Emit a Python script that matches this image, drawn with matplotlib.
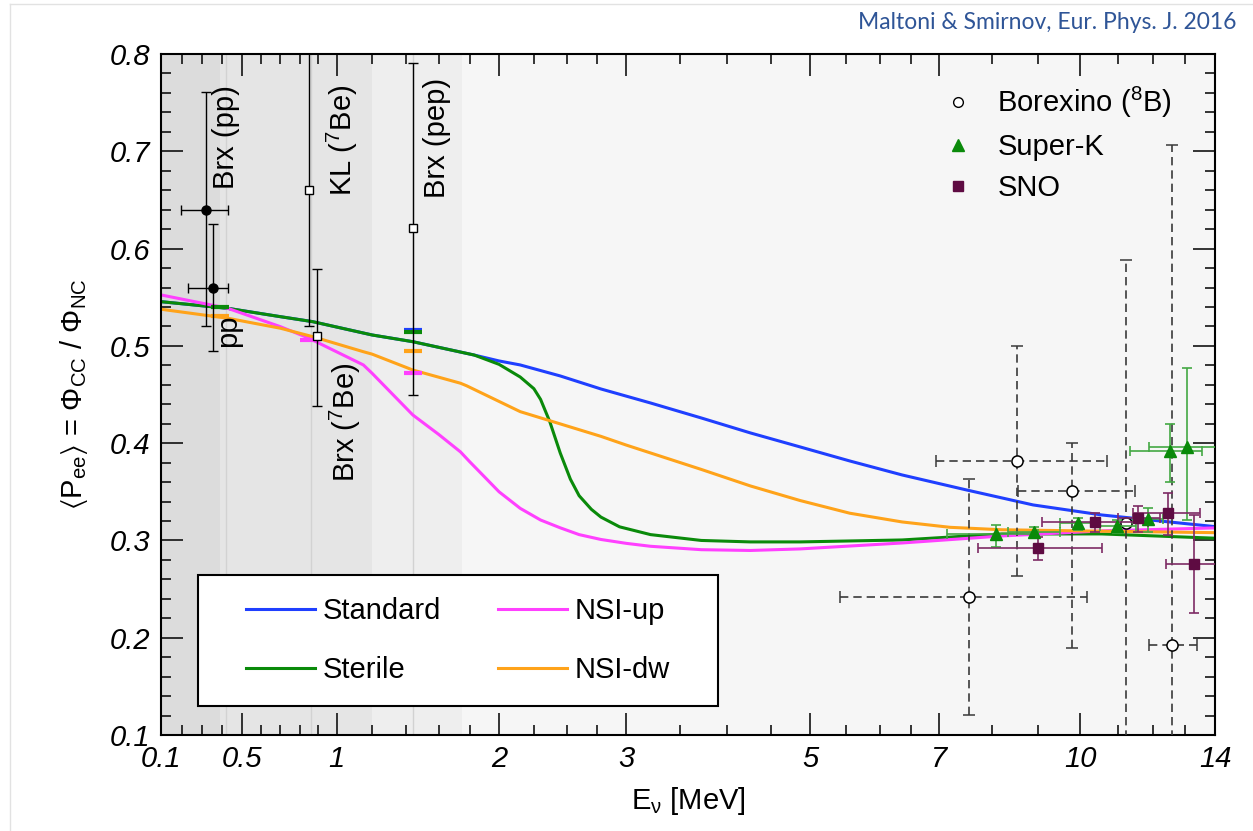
import numpy as np
import matplotlib
matplotlib.use('Agg')
import matplotlib.pyplot as plt
from matplotlib.lines import Line2D
from matplotlib.patches import Rectangle

plt.rcParams['font.family'] = ['Liberation Sans', 'DejaVu Sans']
plt.rcParams['mathtext.fontset'] = 'custom'
plt.rcParams['mathtext.rm'] = 'Liberation Sans'
plt.rcParams['mathtext.it'] = 'Liberation Sans:italic'
plt.rcParams['mathtext.bf'] = 'Liberation Sans:bold'
plt.rcParams['mathtext.fallback'] = 'stixsans'

# model curves: neutrino energy [MeV] and <Pee>
std_E = [0.1, 0.43, 0.7, 0.87, 1.2, 1.44, 1.83, 2.0, 2.15, 2.45, 2.78, 3.22, 3.72, 4.26,
         4.87, 5.55, 6.36, 7.5, 8.88, 10.55, 12.41, 14]
std_P = [0.5454, 0.5386, 0.530, 0.5249, 0.5112, 0.5043, 0.4906, 0.4845, 0.4804, 0.4691,
         0.4557, 0.4413, 0.4259, 0.4105, 0.3961, 0.3817, 0.3673, 0.3519, 0.3365, 0.3262,
         0.3193, 0.3142]

ster_E = [0.1, 0.43, 0.7, 0.87, 1.2, 1.44, 1.83, 2.0, 2.15, 2.25, 2.3, 2.37, 2.45, 2.53,
          2.6, 2.7, 2.78, 2.94, 3.22, 3.72, 4.26, 4.87, 6.36, 8.2, 10.55, 14]
ster_P = [0.5454, 0.5386, 0.530, 0.5249, 0.5112, 0.5043, 0.4906, 0.481, 0.468, 0.456,
          0.445, 0.422, 0.390, 0.363, 0.346, 0.332, 0.324, 0.314, 0.306, 0.300, 0.2985,
          0.2985, 0.3005, 0.3067, 0.3067, 0.3023]

up_E = [0.1, 0.43, 0.7, 0.83, 0.87, 1.15, 1.2, 1.44, 1.6, 1.74, 1.8, 1.87, 2.0, 2.15,
        2.3, 2.45, 2.6, 2.78, 3.0, 3.22, 3.72, 4.26, 4.87, 6.36, 8.2, 10.55, 14]
up_P = [0.5523, 0.5386, 0.5197, 0.5095, 0.506, 0.4804, 0.4718, 0.429, 0.409, 0.391,
        0.381, 0.370, 0.350, 0.333, 0.321, 0.313, 0.306, 0.301, 0.297, 0.294, 0.2905,
        0.2897, 0.2913, 0.2974, 0.3046, 0.3098, 0.3129]

dw_E = [0.1, 0.43, 0.7, 0.87, 1.15, 1.2, 1.44, 1.74, 1.78, 2.15, 2.78, 3.0, 3.72, 4.26,
        4.87, 5.55, 6.36, 7.19, 8.2, 10.55, 14]
dw_P = [0.5376, 0.5284, 0.5181, 0.5095, 0.494, 0.4915, 0.4752, 0.4616, 0.459, 0.4324,
        0.407, 0.398, 0.373, 0.356, 0.341, 0.328, 0.319, 0.3135, 0.311, 0.3095, 0.308]

# predicted averages drawn as short dashes at the line sources
dash_E = [0.39, 0.39, 0.85, 1.44, 1.44, 1.44, 1.44]
dash_P = [0.540, 0.531, 0.506, 0.516, 0.514, 0.495, 0.472]
dash_c = ['#0a8a0a', '#ffa31a', '#ff40ff', '#1f3fff', '#0a8a0a', '#ffa31a', '#ff40ff']

# low energy measurements
pp_E = [0.319, 0.357]
pp_P = [0.640, 0.559]
pp_Elo = [0.195, 0.233]
pp_Ehi = [0.433, 0.433]
pp_Plo = [0.5205, 0.4948]
pp_Phi = [0.7606, 0.6253]

be_E = [0.851, 0.891, 1.44]          # KL 7Be, Brx 7Be, Brx pep
be_P = [0.660, 0.510, 0.621]
be_Plo = [0.5205, 0.4385, 0.450]
be_Phi = [0.90, 0.579, 0.791]

# Borexino 8B
b8_E = [8.53, 9.80, 7.54, 12.58, 11.21]
b8_P = [0.382, 0.351, 0.242, 0.193, 0.318]
b8_Elo = [6.94, 8.55, 5.41, 11.89, 11.21]
b8_Ehi = [10.70, 11.48, 10.18, 13.40, 11.21]
b8_Plo = [0.263, 0.189, 0.121, 0.0, 0.0]
b8_Phi = [0.50, 0.40, 0.363, 0.706, 0.588]

# Super-K
sk_E = [8.08, 8.91, 9.95, 10.96, 11.86, 12.53, 13.05]
sk_P = [0.3067, 0.309, 0.3177, 0.3152, 0.3218, 0.392, 0.3964]
sk_Elo = [7.13, 8.34, 9.5, 10.5, 11.4, 11.33, 11.89]
sk_Ehi = [9.0, 9.5, 10.5, 11.5, 12.3, 13.54, 16.0]
sk_Plo = [0.2936, 0.3023, 0.3108, 0.3074, 0.309, 0.3604, 0.321]
sk_Phi = [0.3159, 0.3142, 0.3228, 0.3211, 0.333, 0.4194, 0.477]

# SNO
sno_E = [8.98, 10.38, 11.54, 12.46, 13.28]
sno_P = [0.292, 0.3187, 0.3234, 0.328, 0.2758]
sno_Elo = [7.72, 9.07, 11.0, 11.4, 12.39]
sno_Ehi = [10.55, 11.86, 12.2, 13.5, 15.0]
sno_Plo = [0.280, 0.309, 0.309, 0.3057, 0.2258]
sno_Phi = [0.304, 0.328, 0.3354, 0.349, 0.3262]

# gray energy bands and thin source lines
band_hi = [1.75, 1.2, 0.39]
band_col = ['#eeeeee', '#e5e5e5', '#dcdcdc']
src_E = [0.42, 0.862, 1.44]

x_ticks = [0.1, 0.5, 1, 2, 3, 5, 7, 10, 14]
x_labels = ['0.1', '0.5', '1', '2', '3', '5', '7', '10', '14']
x_minor = [0.2, 0.3, 0.4, 0.6, 0.7, 0.8, 0.9, 1.2, 1.4, 1.6, 1.8, 2.25, 2.5, 2.75,
           3.5, 4, 4.5, 5.5, 6, 6.5, 8, 9, 11, 12, 13]
y_ticks = [0.1, 0.2, 0.3, 0.4, 0.5, 0.6, 0.7, 0.8]


def errs(v, lo, hi):
    v = np.array(v)
    return [v - np.array(lo), np.array(hi) - v]


fig = plt.figure(figsize=(12.53, 8.31), dpi=100)
ax = fig.add_axes([0.1288, 0.1155, 0.8409, 0.8195])
ax.set_xscale('function', functions=(lambda e: np.arcsinh(np.asarray(e) / 2.0),
                                     lambda v: 2.0 * np.sinh(v)))
ax.set_xlim(0.1, 14)
ax.set_ylim(0.1, 0.8)
ax.set_facecolor('#f6f6f6')

for hi, c in zip(band_hi, band_col):
    ax.axvspan(0.1, hi, color=c, lw=0, zorder=0)
for e in src_E:
    ax.axvline(e, color='#d2d2d2', lw=1, zorder=0.5)

l_ster, = ax.plot(ster_E, ster_P, color='#0a8a0a', lw=2.2, label='Sterile', zorder=2.0)
l_std, = ax.plot(std_E, std_P, color='#1f3fff', lw=2.2, label='Standard', zorder=1.9)
l_up, = ax.plot(up_E, up_P, color='#ff40ff', lw=2.2, label='NSI-up', zorder=2.1)
l_dw, = ax.plot(dw_E, dw_P, color='#ffa31a', lw=2.2, label='NSI-dw', zorder=2.1)

for e, p, c in zip(dash_E, dash_P, dash_c):
    ax.plot([e], [p], marker='_', ms=13, mew=3, color=c, zorder=3)

ax.errorbar(pp_E, pp_P, xerr=errs(pp_E, pp_Elo, pp_Ehi), yerr=errs(pp_P, pp_Plo, pp_Phi),
            fmt='o', color='black', ms=6.5, elinewidth=1, capsize=3.5, capthick=1, zorder=5)
ax.errorbar(be_E, be_P, yerr=errs(be_P, be_Plo, be_Phi), fmt='s', mfc='white', mec='black',
            ecolor='black', ms=6, mew=1, elinewidth=1, capsize=3.5, capthick=1, zorder=5)

eb = ax.errorbar(b8_E, b8_P, xerr=errs(b8_E, b8_Elo, b8_Ehi), yerr=errs(b8_P, b8_Plo, b8_Phi),
                 fmt='o', mfc='white', mec='black', ecolor='#3a3a3a', ms=8, mew=1.1,
                 elinewidth=1.2, capsize=4, capthick=1.2, zorder=4)
for lc in eb[2]:
    lc.set_linestyle((0, (5, 3)))

ax.errorbar(sk_E, sk_P, xerr=errs(sk_E, sk_Elo, sk_Ehi), yerr=errs(sk_P, sk_Plo, sk_Phi),
            fmt='^', color='#0a8a0a', ecolor='#44a844', ms=9, elinewidth=1.2, capsize=3.5,
            capthick=1.2, zorder=6)
ax.errorbar(sno_E, sno_P, xerr=errs(sno_E, sno_Elo, sno_Ehi), yerr=errs(sno_P, sno_Plo, sno_Phi),
            fmt='s', color='#5e0b42', ecolor='#7d2b64', ms=7.5, elinewidth=1.2, capsize=3.5,
            capthick=1.2, zorder=6)

# rotated source labels
lab_kw = dict(rotation=90, ha='center', va='center', fontsize=21, zorder=7)
ax.text(0.42, 0.715, 'Brx (pp)', **lab_kw)
ax.text(0.43, 0.516, 'pp', **lab_kw)
ax.text(1.035, 0.711, r'KL ($^{7}$Be)', **lab_kw)
ax.text(1.05, 0.422, r'Brx ($^{7}$Be)', **lab_kw)
ax.text(1.59, 0.714, 'Brx (pep)', **lab_kw)

ax.set_xticks(x_ticks)
ax.set_xticklabels(x_labels)
ax.set_xticks(x_minor, minor=True)
ax.set_yticks(y_ticks)
ax.set_yticklabels(['%.1f' % v for v in y_ticks])
ax.set_yticks(np.arange(0.1, 0.8, 0.02), minor=True)
ax.tick_params(which='both', direction='in', top=True, right=True, width=1.1, labelsize=21)
ax.tick_params(which='major', length=16)
ax.tick_params(which='minor', length=7.5)
ax.tick_params(axis='x', pad=7)
ax.tick_params(axis='y', pad=8)
for t in ax.get_xticklabels() + ax.get_yticklabels():
    t.set_fontstyle('italic')
for s in ax.spines.values():
    s.set_linewidth(1.5)

ax.set_xlabel(r'E$_{\mathrm{\nu}}$ [MeV]', fontsize=21)
ax.xaxis.set_label_coords(0.5, -0.073)
ax.set_ylabel(r'$\langle$P$_{\mathrm{ee}}$$\rangle$ = $\Phi_{\mathrm{CC}}$ / $\Phi_{\mathrm{NC}}$',
              fontsize=21)
ax.yaxis.set_label_coords(-0.068, 0.5)

# data legend (top right)
h_b8 = Line2D([], [], ls='none', marker='o', mfc='white', mec='black', ms=7, mew=1)
h_sk = Line2D([], [], ls='none', marker='^', color='#0a8a0a', ms=9)
h_sno = Line2D([], [], ls='none', marker='s', color='#5e0b42', ms=7)
leg1 = ax.legend([h_b8, h_sk, h_sno], [r'Borexino ($^{8}$B)', 'Super-K', 'SNO'],
                 loc='upper left', bbox_to_anchor=(0.7424, 0.9545), frameon=False,
                 fontsize=21, borderpad=0, borderaxespad=0, handlelength=1.0,
                 handletextpad=0.84, labelspacing=0.45)
ax.add_artist(leg1)

# model legend (bottom left) with a square frame
ax.add_patch(Rectangle((0.0347, 0.0426), 0.4935, 0.192, transform=ax.transAxes,
                       facecolor='white', edgecolor='black', lw=1.5, zorder=8))
leg2 = ax.legend([l_std, l_ster, l_up, l_dw], ['Standard', 'Sterile', 'NSI-up', 'NSI-dw'],
                 ncol=2, loc='center', bbox_to_anchor=(0.2815, 0.1386), frameon=False,
                 fontsize=21, handlelength=2.35, handletextpad=0.28, columnspacing=1.95,
                 labelspacing=1.05)
leg2.set_zorder(9)

# slide frame lines and citation
fig.add_artist(Line2D([0.008, 1.0], [0.995, 0.995], color='#e2e2e2', lw=1))
fig.add_artist(Line2D([0.008, 0.008], [0.0, 0.995], color='#e2e2e2', lw=1))
fig.text(0.987, 0.9735, 'Maltoni & Smirnov, Eur. Phys. J. 2016', ha='right', va='center',
         fontsize=16.5, color='#2f5597', family=['Lato', 'DejaVu Sans'])

fig.savefig('out.png', dpi=100)
